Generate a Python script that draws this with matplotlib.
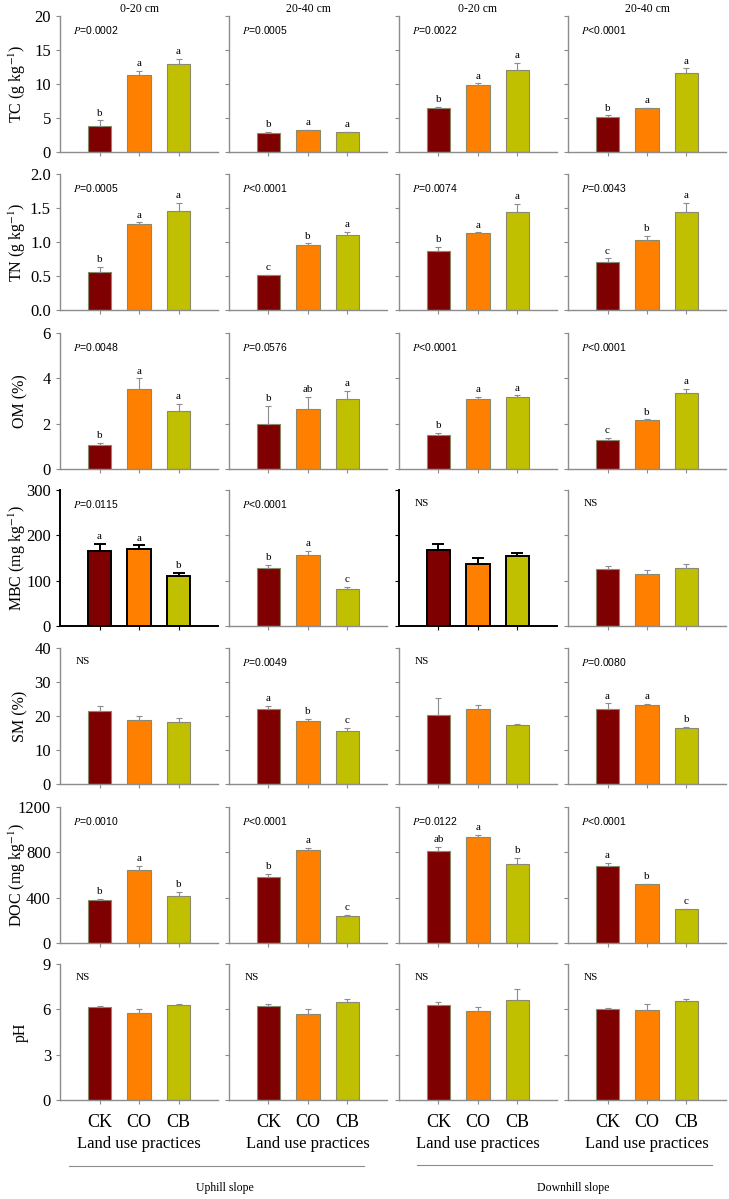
import numpy as np
import matplotlib.pyplot as plt
from matplotlib.lines import Line2D

plt.rcParams['font.family'] = 'Liberation Serif'
plt.rcParams['mathtext.fontset'] = 'stix'

practices = ['CK', 'CO', 'CB']
depths = ['0-20 cm', '20-40 cm', '0-20 cm', '20-40 cm']
colors = ['#7f0000', '#ff8000', '#c0c000']

# panels in each row: uphill 0-20, uphill 20-40, downhill 0-20, downhill 20-40
tc_mean = [[3.8, 11.3, 13.0], [2.8, 3.2, 2.9], [6.5, 9.8, 12.0], [5.2, 6.4, 11.6]]
tc_err = [[0.85, 0.6, 0.7], [0.15, 0.1, 0.1], [0.1, 0.3, 1.1], [0.2, 0.1, 0.7]]
tc_let = [['b', 'a', 'a'], ['b', 'a', 'a'], ['b', 'a', 'a'], ['b', 'a', 'a']]
tc_p = ['P=0.0002', 'P=0.0005', 'P=0.0022', 'P<0.0001']

tn_mean = [[0.56, 1.26, 1.45], [0.51, 0.95, 1.10], [0.87, 1.13, 1.44], [0.71, 1.03, 1.44]]
tn_err = [[0.07, 0.03, 0.12], [0.01, 0.03, 0.05], [0.06, 0.01, 0.12], [0.05, 0.06, 0.13]]
tn_let = [['b', 'a', 'a'], ['c', 'b', 'a'], ['b', 'a', 'a'], ['c', 'b', 'a']]
tn_p = ['P=0.0005', 'P<0.0001', 'P=0.0074', 'P=0.0043']

om_mean = [[1.06, 3.53, 2.56], [1.99, 2.65, 3.07], [1.51, 3.07, 3.19], [1.26, 2.16, 3.37]]
om_err = [[0.1, 0.47, 0.31], [0.8, 0.54, 0.37], [0.07, 0.1, 0.06], [0.12, 0.03, 0.16]]
om_let = [['b', 'a', 'a'], ['b', 'ab', 'a'], ['b', 'a', 'a'], ['c', 'b', 'a']]
om_p = ['P=0.0048', 'P=0.0576', 'P<0.0001', 'P<0.0001']

mbc_mean = [[166, 170, 110], [127, 157, 82], [167, 136, 154], [125, 115, 128]]
mbc_err = [[15, 8, 7], [8, 9, 4], [14, 15, 7], [7, 9, 9]]
mbc_let = [['a', 'a', 'b'], ['b', 'a', 'c'], ['', '', ''], ['', '', '']]
mbc_p = ['P=0.0115', 'P<0.0001', 'NS', 'NS']

sm_mean = [[21.5, 18.7, 18.2], [22.0, 18.5, 15.5], [20.4, 22.0, 17.5], [22.0, 23.1, 16.5]]
sm_err = [[1.3, 1.3, 1.2], [1.0, 0.7, 0.9], [4.9, 1.1, 0.2], [1.7, 0.5, 0.3]]
sm_let = [['', '', ''], ['a', 'b', 'c'], ['', '', ''], ['a', 'a', 'b']]
sm_p = ['NS', 'P=0.0049', 'NS', 'P=0.0080']

doc_mean = [[382, 642, 418], [582, 824, 236], [815, 937, 696], [678, 519, 296]]
doc_err = [[5, 39, 33], [27, 15, 9], [33, 18, 56], [30, 6, 6]]
doc_let = [['b', 'a', 'b'], ['b', 'a', 'c'], ['ab', 'a', 'b'], ['a', 'b', 'c']]
doc_p = ['P=0.0010', 'P<0.0001', 'P=0.0122', 'P<0.0001']

ph_mean = [[6.18, 5.74, 6.31], [6.25, 5.72, 6.49], [6.29, 5.89, 6.64], [6.05, 5.96, 6.58]]
ph_err = [[0.07, 0.29, 0.07], [0.07, 0.31, 0.18], [0.18, 0.27, 0.69], [0.05, 0.4, 0.13]]
ph_let = [['', '', ''], ['', '', ''], ['', '', ''], ['', '', '']]
ph_p = ['NS', 'NS', 'NS', 'NS']

rows = [
    ('TC (g kg$^{-1}$)', [0, 5, 10, 15, 20], tc_mean, tc_err, tc_let, tc_p),
    ('TN (g kg$^{-1}$)', [0.0, 0.5, 1.0, 1.5, 2.0], tn_mean, tn_err, tn_let, tn_p),
    ('OM (%)', [0, 2, 4, 6], om_mean, om_err, om_let, om_p),
    ('MBC (mg kg$^{-1}$)', [0, 100, 200, 300], mbc_mean, mbc_err, mbc_let, mbc_p),
    ('SM (%)', [0, 10, 20, 30, 40], sm_mean, sm_err, sm_let, sm_p),
    ('DOC (mg kg$^{-1}$)', [0, 400, 800, 1200], doc_mean, doc_err, doc_let, doc_p),
    ('pH', [0, 3, 6, 9], ph_mean, ph_err, ph_let, ph_p),
]
tick_fmt = [None, '%.1f', None, None, None, None, None]

W, H = 729, 1199
col_left = [60, 229, 399, 568]
col_w = 158
row_top = [16, 174, 333, 490, 648, 807, 964]
row_h = 136
grey = '#8c8c8c'

fig = plt.figure(figsize=(W / 100, H / 100), dpi=100)
x = np.arange(1, 4)

for r, (label, yticks, means, errs, lets, pvals) in enumerate(rows):
    for c in range(4):
        ax = fig.add_axes([col_left[c] / W, 1 - (row_top[r] + row_h) / H, col_w / W, row_h / H])
        # the MBC panels of the 0-20 cm layer are drawn in black in the original
        bold = (r == 3 and c in (0, 2))
        spine_c = 'black' if bold else grey
        edge_c = 'black' if bold else '#8a8a6a'
        ax.bar(x, means[c], width=0.6, color=colors, edgecolor=edge_c, linewidth=1.4 if bold else 0.8, zorder=2)
        ax.errorbar(x, means[c], yerr=[np.zeros(3), errs[c]], fmt='none', ecolor=spine_c,
                    elinewidth=1.4 if bold else 0.8, capsize=4 if bold else 2.5,
                    capthick=1.4 if bold else 0.8, zorder=3)
        for i in range(3):
            if lets[c][i]:
                ax.annotate(lets[c][i], (x[i], means[c][i] + errs[c][i]), xytext=(0, 2),
                            textcoords='offset points', ha='center', va='bottom', fontsize=8)
        p = pvals[c]
        if p == 'NS':
            ax.text(0.1, 0.9, 'NS', transform=ax.transAxes, fontsize=8, va='center')
        else:
            ax.text(0.08, 0.9, '$P$' + p[1:], transform=ax.transAxes, fontsize=7.5,
                    family='Liberation Sans', va='center')

        ax.set_xlim(0, 4)
        ax.set_ylim(yticks[0], yticks[-1])
        ax.set_yticks(yticks)
        ax.set_xticks(x)
        for s in ['top', 'right']:
            ax.spines[s].set_visible(False)
        for s in ['left', 'bottom']:
            ax.spines[s].set_color(spine_c)
            ax.spines[s].set_linewidth(1.4 if bold else 1.0)
        ax.tick_params(direction='out', length=3, color=spine_c, labelsize=12)
        ax.tick_params(axis='x', pad=7)
        if c == 0:
            if tick_fmt[r]:
                ax.set_yticklabels([tick_fmt[r] % t for t in yticks])
            ax.set_ylabel(label, fontsize=11.5)
            ax.yaxis.set_label_coords(-0.2, 0.5)
        else:
            ax.set_yticklabels([])
        if r == 6:
            ax.set_xticklabels(practices, fontsize=13)
            ax.set_xlabel('Land use practices', fontsize=12, labelpad=4)
        else:
            ax.set_xticklabels([])
        if r == 0:
            ax.set_title(depths[c], fontsize=8.5, pad=3)

# slope groups under the bottom row
fig.add_artist(Line2D([69 / W, 364 / W], [1 - 1166 / H, 1 - 1166 / H], color=grey, lw=0.8))
fig.add_artist(Line2D([417 / W, 712 / W], [1 - 1165 / H, 1 - 1165 / H], color=grey, lw=0.8))
fig.text(225 / W, 1 - 1188 / H, 'Uphill slope', ha='center', va='center', fontsize=8.5)
fig.text(573 / W, 1 - 1188 / H, 'Downhill slope', ha='center', va='center', fontsize=8.5)

fig.savefig('out.png', dpi=100)
